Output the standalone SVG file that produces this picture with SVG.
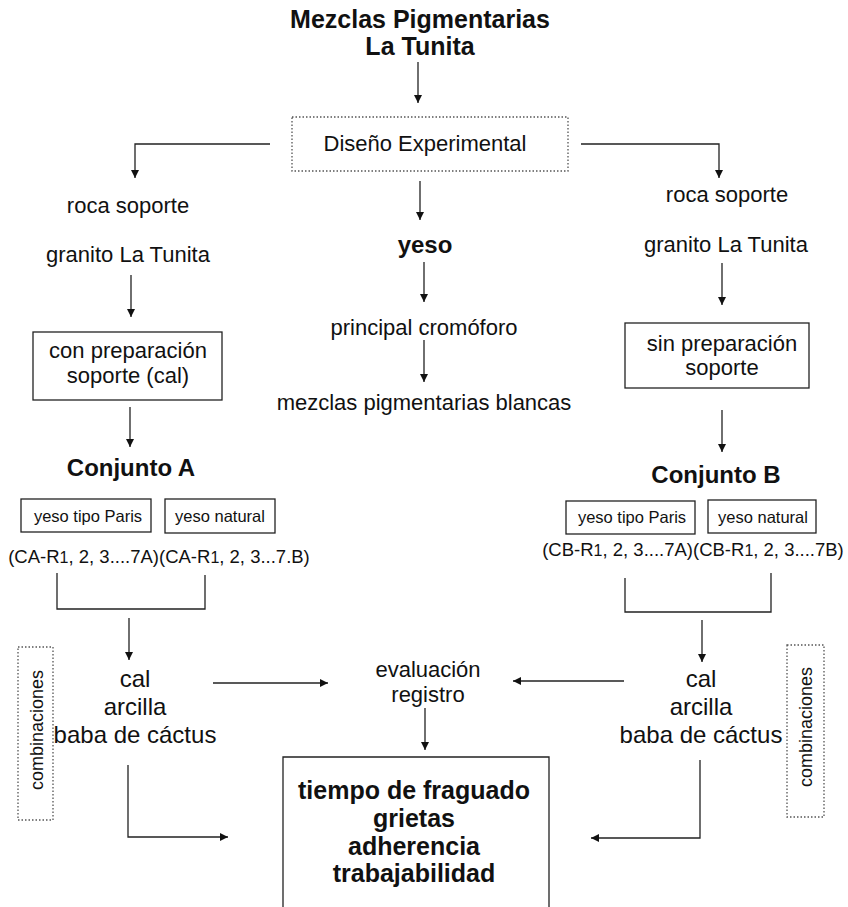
<svg xmlns="http://www.w3.org/2000/svg" width="848" height="907" viewBox="0 0 848 907">
<defs>
<style>
text{font-family:"Liberation Sans",Arial,sans-serif;fill:#111;text-anchor:middle}
.t22{font-size:22px}
.b{font-weight:bold}
.s17{font-size:16.5px}
.s18{font-size:18.5px}
.s24{font-size:24px}
.box{fill:none;stroke:#222;stroke-width:1.3}
.dot{fill:none;stroke:#555;stroke-width:1.3;stroke-dasharray:1.5 2}
.ln{fill:none;stroke:#222;stroke-width:1.3}
</style>
<marker id="ah" viewBox="0 0 10 10" refX="10" refY="5" markerWidth="8" markerHeight="8" markerUnits="userSpaceOnUse" orient="auto">
<path d="M0,0 L10,5 L0,10 z" fill="#111"/>
</marker>
</defs>
<rect width="848" height="907" fill="#fff"/>

<g id="title">
<text class="b" font-size="25" x="420" y="28">Mezclas Pigmentarias</text>
<text class="b" font-size="25" x="420" y="55">La Tunita</text>
</g>
<g id="diseno">
<rect class="dot" x="292" y="117" width="276" height="54"/>
<text class="t22" x="425" y="151">Diseño Experimental</text>
</g>
<g id="rocaA"><text class="t22" x="128" y="213">roca soporte</text></g>
<g id="granitoA"><text class="t22" x="128" y="262">granito La Tunita</text></g>
<g id="prepA">
<rect class="box" x="33" y="332" width="189" height="68"/>
<text class="t22" x="128" y="358">con preparación</text>
<text class="t22" x="128" y="383">soporte (cal)</text>
</g>
<g id="conjA"><text class="b s24" x="131" y="476">Conjunto A</text></g>
<g id="parisA">
<rect class="box" x="21" y="499" width="130" height="33"/>
<text class="s17" x="88" y="522">yeso tipo Paris</text>
</g>
<g id="naturalA">
<rect class="box" x="165" y="499" width="110" height="34"/>
<text class="s17" x="220" y="522">yeso natural</text>
</g>
<g id="codA"><text class="s18" x="159" y="563">(CA-R<tspan font-size="16">1</tspan>, 2, 3....7A)(CA-R<tspan font-size="16">1</tspan>, 2, 3...7.B)</text></g>
<g id="combA">
<text class="s24" x="135" y="687">cal</text>
<text class="s24" x="135" y="715">arcilla</text>
<text class="s24" x="135" y="743">baba de cáctus</text>
</g>
<g id="combinacionesA">
<rect class="dot" x="18" y="647" width="35" height="173"/>
<text font-size="18" transform="translate(43,730) rotate(-90)">combinaciones</text>
</g>

<g id="yeso"><text class="b s24" x="425" y="253">yeso</text></g>
<g id="cromoforo"><text class="t22" x="424" y="335">principal cromóforo</text></g>
<g id="blancas"><text class="t22" x="424" y="410">mezclas pigmentarias blancas</text></g>
<g id="evaluacion">
<text class="t22" x="428" y="677">evaluación</text>
<text class="t22" x="428" y="702">registro</text>
</g>
<g id="resultado">
<path class="box" d="M283,910 V757 H549 V910"/>
<text class="b" font-size="25" x="414" y="799">tiempo de fraguado</text>
<text class="b" font-size="25" x="414" y="827">grietas</text>
<text class="b" font-size="25" x="414" y="855">adherencia</text>
<text class="b" font-size="25" x="414" y="882">trabajabilidad</text>
</g>

<g id="rocaB"><text class="t22" x="727" y="202">roca soporte</text></g>
<g id="granitoB"><text class="t22" x="726" y="252">granito La Tunita</text></g>
<g id="prepB">
<rect class="box" x="625" y="323" width="184" height="65"/>
<text class="t22" x="722" y="351">sin preparación</text>
<text class="t22" x="722" y="375">soporte</text>
</g>
<g id="conjB"><text class="b s24" x="716" y="483">Conjunto B</text></g>
<g id="parisB">
<rect class="box" x="566" y="501" width="129" height="33"/>
<text class="s17" x="632" y="523">yeso tipo Paris</text>
</g>
<g id="naturalB">
<rect class="box" x="708" y="500" width="108" height="33"/>
<text class="s17" x="763" y="523">yeso natural</text>
</g>
<g id="codB"><text class="s18" x="693" y="556">(CB-R<tspan font-size="16">1</tspan>, 2, 3....7A)(CB-R<tspan font-size="16">1</tspan>, 2, 3....7B)</text></g>
<g id="combB">
<text class="s24" x="701" y="687">cal</text>
<text class="s24" x="701" y="715">arcilla</text>
<text class="s24" x="701" y="743">baba de cáctus</text>
</g>
<g id="combinacionesB">
<rect class="dot" x="787" y="645" width="37" height="172"/>
<text font-size="18" transform="translate(812,727) rotate(-90)">combinaciones</text>
</g>

<g id="connectors">
<line class="ln" x1="418" y1="62" x2="418" y2="103" marker-end="url(#ah)"/>
<polyline class="ln" points="270,144 135,144 135,178" marker-end="url(#ah)"/>
<polyline class="ln" points="581,144 719,144 719,178" marker-end="url(#ah)"/>
<line class="ln" x1="420" y1="181" x2="420" y2="220" marker-end="url(#ah)"/>
<line class="ln" x1="424" y1="262" x2="424" y2="302" marker-end="url(#ah)"/>
<line class="ln" x1="424" y1="340" x2="424" y2="382" marker-end="url(#ah)"/>
<line class="ln" x1="131" y1="275" x2="131" y2="317" marker-end="url(#ah)"/>
<line class="ln" x1="130" y1="407" x2="130" y2="447" marker-end="url(#ah)"/>
<line class="ln" x1="722" y1="263" x2="722" y2="305" marker-end="url(#ah)"/>
<line class="ln" x1="722" y1="410" x2="722" y2="452" marker-end="url(#ah)"/>
<polyline class="ln" points="57,573 57,609 205,609 205,575"/>
<line class="ln" x1="129" y1="618" x2="129" y2="660" marker-end="url(#ah)"/>
<polyline class="ln" points="625,578 625,612 771,612 771,573"/>
<line class="ln" x1="702" y1="620" x2="702" y2="662" marker-end="url(#ah)"/>
<line class="ln" x1="213" y1="683" x2="328" y2="683" marker-end="url(#ah)"/>
<line class="ln" x1="624" y1="681" x2="513" y2="681" marker-end="url(#ah)"/>
<line class="ln" x1="425" y1="708" x2="425" y2="750" marker-end="url(#ah)"/>
<polyline class="ln" points="128,765 128,837 228,837" marker-end="url(#ah)"/>
<polyline class="ln" points="700,760 700,838 591,838" marker-end="url(#ah)"/>
</g>
</svg>
